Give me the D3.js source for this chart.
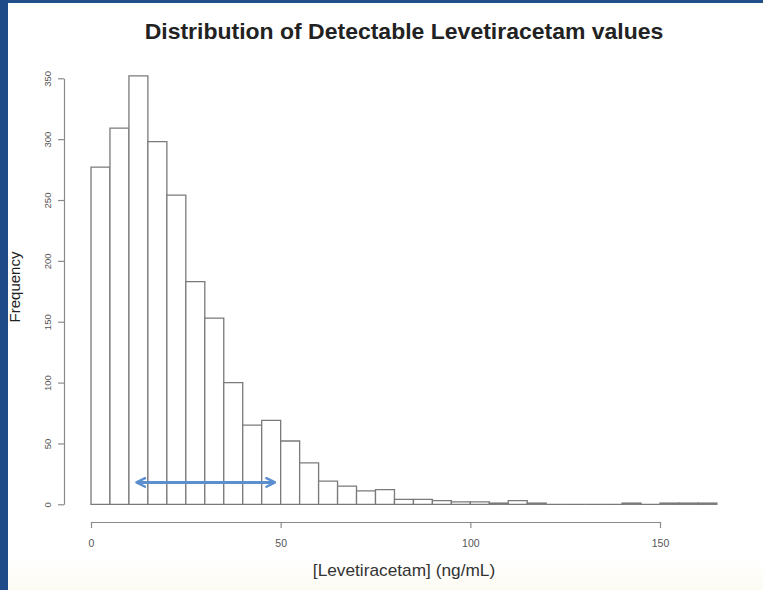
<!DOCTYPE html>
<html>
<head>
<meta charset="utf-8">
<script src="https://cdn.jsdelivr.net/npm/d3@7"></script>
<style>
html,body{margin:0;padding:0;background:#fff;}
svg{display:block;font-family:"Liberation Sans",Arial,Helvetica,sans-serif;}
</style>
</head>
<body>
<svg id="chart" width="763" height="590"></svg>
<script>
// ---- data ----
const binWidth = 5;
const binStarts = [0,5,10,15,20,25,30,35,40,45,50,55,60,65,70,75,80,85,90,95,100,105,110,115,120,125,130,135,140,145,150,155,160];
const counts    = [277,309,352,298,254,183,153,100,65,69,52,34,19,15,11,12,4,4,3,2,2,1,3,1,0,0,0,0,1,0,1,1,1];
const xTicks = [0,50,100,150];
const yTicks = [0,50,100,150,200,250,300,350];
const arrowRange = [12, 48.5];
const arrowLevel = 18;
const title = "Distribution of Detectable Levetiracetam values";
const xLabel = "[Levetiracetam] (ng/mL)";
const yLabel = "Frequency";

// ---- layout ----
const W = 763, H = 590;
const svg = d3.select("#chart");
const defs = svg.append("defs");

// slide frame
svg.append("rect").attr("x",0).attr("y",0).attr("width",W).attr("height",H).attr("fill","#ffffff");
const cream = defs.append("linearGradient").attr("id","cream").attr("x1",0).attr("y1",0).attr("x2",0).attr("y2",1);
cream.append("stop").attr("offset","0").attr("stop-color","#ffffff");
cream.append("stop").attr("offset","1").attr("stop-color","#fdfbf3");
svg.append("rect").attr("x",0).attr("y",560).attr("width",W).attr("height",30).attr("fill","url(#cream)");
svg.append("rect").attr("x",0).attr("y",0).attr("width",W).attr("height",3).attr("fill","#214f8c");
svg.append("rect").attr("x",0).attr("y",0).attr("width",8).attr("height",H).attr("fill","#1f4b88");

const x = d3.scaleLinear().domain([0,150]).range([91,660]);
const y = d3.scaleLinear().domain([0,350]).range([504.3,78.3]);

// bars (paths so that empty bins still show as a baseline segment)
svg.append("g").selectAll("path").data(binStarts).join("path")
  .attr("d", (d,i) => {
    const x0 = x(d), x1 = x(d+binWidth), y0 = y(0), yt = y(counts[i]);
    return `M${x0},${y0}V${yt}H${x1}V${y0}Z`;
  })
  .attr("fill","#ffffff")
  .attr("stroke","#7a7a7a")
  .attr("stroke-width",1.3);

// x axis
const xAxis = svg.append("g").attr("transform","translate(0,522)")
  .call(d3.axisBottom(x).tickValues(xTicks).tickSize(6).tickSizeOuter(0).tickPadding(12).tickFormat(d3.format("d")));
xAxis.select(".domain").attr("stroke","#8a8a8a").attr("stroke-width",1.2);
xAxis.selectAll(".tick line").attr("stroke","#8a8a8a").attr("stroke-width",1.2);
xAxis.selectAll(".tick text").attr("fill","#555").attr("font-size","10.5px").attr("font-family","Liberation Sans, Arial, sans-serif");

// y axis
const yAxis = svg.append("g").attr("transform","translate(64,0)")
  .call(d3.axisLeft(y).tickValues(yTicks).tickSize(6).tickSizeOuter(0).tickPadding(0).tickFormat(d3.format("d")));
yAxis.select(".domain").attr("stroke","#8a8a8a").attr("stroke-width",1.2);
yAxis.selectAll(".tick line").attr("stroke","#8a8a8a").attr("stroke-width",1.2);
yAxis.selectAll(".tick text")
  .attr("fill","#555").attr("font-size","9.5px").attr("font-family","Liberation Sans, Arial, sans-serif")
  .attr("x",null).attr("dy",null)
  .attr("text-anchor","middle")
  .attr("transform","translate(-16,0) rotate(-90)")
  .attr("dominant-baseline","middle");

// arrow
defs.append("marker").attr("id","ah").attr("viewBox","0 0 10 10")
  .attr("refX",8).attr("refY",5).attr("markerWidth",3.6).attr("markerHeight",3.6)
  .attr("orient","auto-start-reverse").attr("markerUnits","strokeWidth")
  .append("path").attr("d","M1,1 L9,5 L1,9").attr("fill","none").attr("stroke","#5b8fd0").attr("stroke-width",2.2).attr("stroke-linecap","round").attr("stroke-linejoin","round");
svg.append("line")
  .attr("x1", x(arrowRange[0])+1).attr("x2", x(arrowRange[1])-1)
  .attr("y1", y(arrowLevel)).attr("y2", y(arrowLevel))
  .attr("stroke","#5b8fd0").attr("stroke-width",3)
  .attr("marker-start","url(#ah)").attr("marker-end","url(#ah)");

// titles
svg.append("text").attr("transform","translate(404,39) scale(1.045,1)").attr("text-anchor","middle")
  .attr("font-size","22px").attr("font-weight","bold").attr("fill","#222").text(title);
svg.append("text").attr("transform","translate(404,576) scale(1.08,1)").attr("text-anchor","middle")
  .attr("font-size","16px").attr("fill","#333").text(xLabel);
svg.append("text").attr("transform","translate(20,287) rotate(-90)").attr("text-anchor","middle")
  .attr("font-size","15px").attr("fill","#222").text(yLabel);
</script>
</body>
</html>
